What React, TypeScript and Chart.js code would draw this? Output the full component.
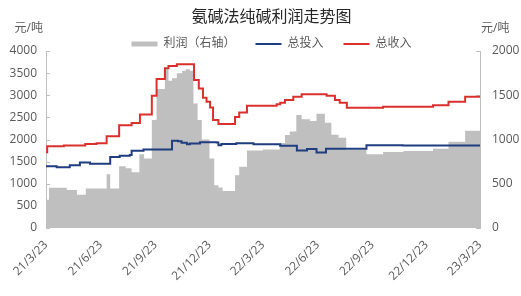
import { useEffect, useRef } from 'react';
import { Chart, registerables } from 'chart.js';

Chart.register(...registerables);

const FONT = '"Open Sans", "Noto Sans CJK SC", sans-serif';
const TEXT_COLOR = '#595959';

const chartTitle = '氨碱法纯碱利润走势图';
const unitLabel = '元/吨';
const seriesNames = ['利润（右轴）', '总投入', '总收入'];
const seriesColors = ['#bfbfbf', '#1f3d7f', '#d9302c'];

// quarterly x-axis ticks
const tickDates = [
  '2021-03-23', '2021-06-23', '2021-09-23', '2021-12-23', '2022-03-23',
  '2022-06-23', '2022-09-23', '2022-12-23', '2023-03-23',
];
const tickLabels = ['21/3/23', '21/6/23', '21/9/23', '21/12/23', '22/3/23', '22/6/23', '22/9/23', '22/12/23', '23/3/23'];

// profit (right axis), value holds from each date until the next one
const profitDates = [
  '2021-03-23', '2021-03-28', '2021-04-27', '2021-05-14', '2021-05-29', '2021-07-03', '2021-07-09',
  '2021-07-24', '2021-08-04', '2021-08-14', '2021-08-27', '2021-09-04', '2021-09-17', '2021-09-25',
  '2021-10-09', '2021-10-15', '2021-10-21', '2021-10-29', '2021-11-07', '2021-11-13', '2021-11-20',
  '2021-11-26', '2021-12-03', '2021-12-10', '2021-12-23', '2021-12-31', '2022-01-07', '2022-01-14',
  '2022-02-04', '2022-02-11', '2022-02-24', '2022-03-23', '2022-04-20', '2022-04-29', '2022-05-07',
  '2022-05-18', '2022-05-27', '2022-06-10', '2022-06-21', '2022-07-05', '2022-07-16', '2022-07-28',
  '2022-08-10', '2022-09-13', '2022-10-11', '2022-11-14', '2023-01-03', '2023-01-29', '2023-02-26',
  '2023-03-23',
];
const profitValues = [
  320, 455, 430, 375, 446, 608, 446,
  698, 675, 630, 834, 785, 1219, 1570,
  1793, 1664, 1691, 1748, 1777, 1793, 1777,
  1408, 1219, 1001, 785, 483, 457, 419,
  597, 691, 875, 887, 960, 1050, 1090,
  1276, 1230, 1210, 1290, 1190, 1055, 1020,
  880, 834, 860, 870, 895, 975, 1100,
  1100,
];

// total cost
const inputDates = [
  '2021-03-23', '2021-04-10', '2021-05-02', '2021-05-19', '2021-06-05', '2021-07-09', '2021-07-25',
  '2021-08-11', '2021-08-14', '2021-09-03', '2021-10-21', '2021-10-31', '2021-11-06', '2021-11-15',
  '2021-11-20', '2021-12-07', '2022-01-04', '2022-01-07', '2022-01-12', '2022-02-06', '2022-03-07',
  '2022-04-21', '2022-05-19', '2022-06-05', '2022-06-21', '2022-07-07', '2022-09-13', '2022-11-13',
  '2023-03-23',
];
const inputValues = [
  1395, 1375, 1420, 1480, 1450, 1605, 1630,
  1650, 1745, 1775, 1970, 1960, 1925, 1895,
  1910, 1940, 1930, 1870, 1900, 1915, 1890,
  1860, 1750, 1785, 1707, 1790, 1870, 1865,
  1860,
];

// total revenue
const incomeDates = [
  '2021-03-23', '2021-03-25', '2021-04-22', '2021-05-28', '2021-06-16', '2021-07-03', '2021-07-24',
  '2021-08-14', '2021-08-28', '2021-09-17', '2021-09-25', '2021-10-09', '2021-10-15', '2021-10-29',
  '2021-11-27', '2021-12-05', '2021-12-12', '2021-12-18', '2021-12-24', '2021-12-29', '2022-01-07',
  '2022-02-04', '2022-02-11', '2022-02-24', '2022-04-15', '2022-04-21', '2022-04-29', '2022-05-13',
  '2022-05-27', '2022-07-08', '2022-07-22', '2022-07-30', '2022-08-11', '2022-10-11', '2023-01-03',
  '2023-01-29', '2023-02-26', '2023-03-23',
];
const incomeValues = [
  1710, 1850, 1865, 1900, 1915, 2075, 2320,
  2375, 2565, 2990, 3365, 3610, 3660, 3700,
  3345, 3155, 2945, 2855, 2725, 2440, 2350,
  2510, 2610, 2760, 2795, 2830, 2890, 2965,
  3025, 2990, 2890, 2830, 2715, 2740, 2775,
  2855, 2965, 2965,
];

const START = Date.UTC(2021, 2, 23);
function dayIndex(date: string): number {
  const [y, m, d] = date.split('-').map(Number);
  return Math.round((Date.UTC(y, m - 1, d) - START) / 86400000);
}
function toPoints(dates: string[], values: number[]) {
  return dates.map((d, i) => ({ x: dayIndex(d), y: values[i] }));
}
const tickDays = tickDates.map(dayIndex);

const decorations = {
  id: 'decorations',
  beforeDatasetsDraw(chart: any) {
    const { ctx, chartArea } = chart;
    const yl = chart.scales.y;
    const yr = chart.scales.y1;
    ctx.save();
    ctx.strokeStyle = '#bfbfbf';
    ctx.lineWidth = 1;
    ctx.beginPath();
    yl.ticks.forEach((t: any) => {
      const py = Math.round(yl.getPixelForValue(t.value)) + 0.5;
      ctx.moveTo(chartArea.left, py);
      ctx.lineTo(chartArea.left + 4, py);
    });
    yr.ticks.forEach((t: any) => {
      const py = Math.round(yr.getPixelForValue(t.value)) + 0.5;
      ctx.moveTo(chartArea.right - 4, py);
      ctx.lineTo(chartArea.right, py);
    });
    ctx.stroke();
    ctx.restore();
  },
  afterDraw(chart: any) {
    const { ctx, chartArea, legend } = chart;
    ctx.save();
    ctx.fillStyle = '#262626';
    ctx.font = `16px ${FONT}`;
    ctx.textAlign = 'center';
    ctx.textBaseline = 'middle';
    ctx.fillText(chartTitle, (legend.left + legend.right) / 2, 17);
    ctx.fillStyle = TEXT_COLOR;
    ctx.font = `12px ${FONT}`;
    ctx.textAlign = 'right';
    ctx.fillText(unitLabel, chartArea.left - 3, chartArea.top - 22);
    ctx.textAlign = 'left';
    ctx.fillText(unitLabel, chartArea.right + 1, chartArea.top - 22);
    ctx.restore();
  },
};

const plainNumber = (value: any) => String(value);

export default function App() {
  const canvasRef = useRef<HTMLCanvasElement>(null);

  useEffect(() => {
    const canvas = canvasRef.current;
    if (!canvas) return;
    const chart = new Chart(canvas, {
      type: 'line',
      data: {
        datasets: [
          {
            label: seriesNames[0],
            data: toPoints(profitDates, profitValues),
            yAxisID: 'y1',
            stepped: 'before',
            fill: 'origin',
            backgroundColor: seriesColors[0],
            borderColor: seriesColors[0],
            borderWidth: 0,
            pointRadius: 0,
            pointStyle: 'rect',
            pointBorderWidth: 0,
            order: 1,
          },
          {
            label: seriesNames[1],
            data: toPoints(inputDates, inputValues),
            yAxisID: 'y',
            stepped: 'before',
            fill: false,
            borderColor: seriesColors[1],
            backgroundColor: seriesColors[1],
            borderWidth: 2,
            pointRadius: 0,
            pointStyle: 'line',
            pointBorderWidth: 2,
            order: 0,
          },
          {
            label: seriesNames[2],
            data: toPoints(incomeDates, incomeValues),
            yAxisID: 'y',
            stepped: 'before',
            fill: false,
            borderColor: seriesColors[2],
            backgroundColor: seriesColors[2],
            borderWidth: 2,
            pointRadius: 0,
            pointStyle: 'line',
            pointBorderWidth: 2,
            order: 0,
          },
        ],
      },
      options: {
        animation: false,
        responsive: false,
        devicePixelRatio: 1,
        layout: { padding: { top: 18, left: 0, right: -22, bottom: 0 } },
        font: { family: FONT },
        plugins: {
          title: { display: false },
          tooltip: { enabled: false },
          legend: {
            position: 'top',
            align: 'center',
            maxHeight: 33,
            labels: {
              usePointStyle: true,
              pointStyleWidth: 26,
              boxHeight: 5,
              padding: 20,
              color: TEXT_COLOR,
              font: { family: FONT, size: 12 },
              sort: (a: any, b: any) => a.datasetIndex - b.datasetIndex,
            },
          },
        },
        scales: {
          x: {
            type: 'linear',
            min: 0,
            max: tickDays[tickDays.length - 1],
            grid: { display: false, drawTicks: false },
            border: { display: false },
            afterBuildTicks: (scale: any) => {
              scale.ticks = tickDays.map((v) => ({ value: v }));
            },
            afterFit: (scale: any) => {
              scale.height = 68;
            },
            ticks: {
              autoSkip: false,
              minRotation: 45,
              maxRotation: 45,
              padding: 10,
              color: TEXT_COLOR,
              font: { family: FONT, size: 12 },
              callback: (value: any) => {
                const i = tickDays.indexOf(Number(value));
                return i >= 0 ? tickLabels[i] : '';
              },
            },
          },
          y: {
            position: 'left',
            min: 0,
            max: 4000,
            grid: { display: false, drawTicks: false },
            border: { display: true, color: '#bfbfbf', width: 1 },
            afterFit: (scale: any) => {
              scale.width = 46;
            },
            ticks: {
              stepSize: 500,
              padding: 9,
              color: TEXT_COLOR,
              font: { family: FONT, size: 12 },
              callback: plainNumber,
            },
          },
          y1: {
            position: 'right',
            min: 0,
            max: 2000,
            grid: { display: false, drawTicks: false },
            border: { display: true, color: '#bfbfbf', width: 1 },
            afterFit: (scale: any) => {
              scale.width = 63;
            },
            ticks: {
              stepSize: 500,
              padding: 12,
              color: TEXT_COLOR,
              font: { family: FONT, size: 12 },
              callback: plainNumber,
            },
          },
        },
      },
      plugins: [decorations],
    } as any);
    return () => chart.destroy();
  }, []);

  return (
    <div style={{ position: 'fixed', left: 0, top: 0, width: 521, height: 296, background: '#fff' }}>
      <canvas ref={canvasRef} width={521} height={296} style={{ display: 'block', width: 521, height: 296 }} />
    </div>
  );
}
